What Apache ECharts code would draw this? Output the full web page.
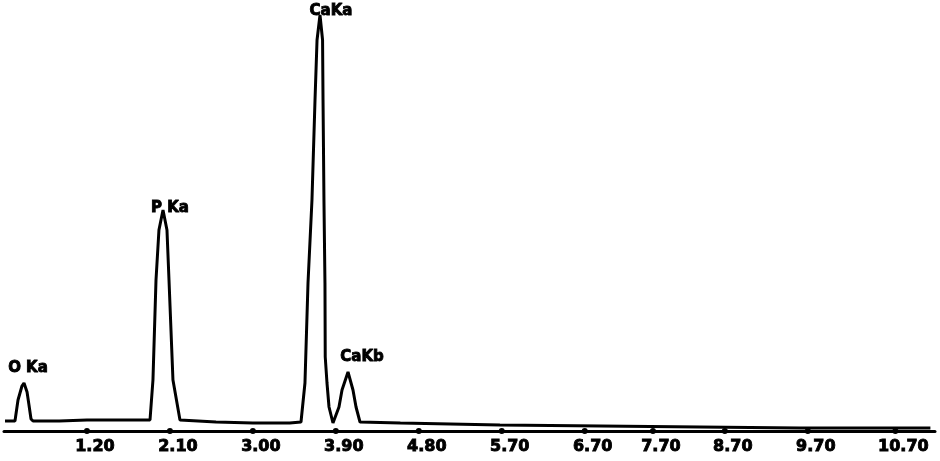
<!DOCTYPE html>
<html>
<head>
<meta charset="utf-8">
<script src="https://cdn.jsdelivr.net/npm/echarts@6/dist/echarts.min.js"></script>
<style>
  html, body { margin: 0; padding: 0; background: #ffffff; }
  #chart { width: 940px; height: 461px; }
</style>
</head>
<body>
<div id="chart"></div>
<script>
// EDS spectrum: energy (keV) against counts
const energy = [
  0.311, 0.419, 0.452, 0.495, 0.517, 0.55, 0.571, 0.593, 0.615,
  0.9, 1.2, 1.6, 1.884, 1.916, 1.949, 1.981, 2.025, 2.068, 2.09, 2.133, 2.209,
  2.6, 3.0, 3.4, 3.522, 3.565, 3.598, 3.641, 3.674, 3.696, 3.728, 3.756, 3.761,
  3.771, 3.782, 3.785, 3.804, 3.826, 3.869, 3.934, 3.967, 4.032, 4.086, 4.119,
  4.162, 4.6, 5.68, 6.77, 7.85, 8.94, 10.35
];
const counts = [
  50, 50, 155, 225, 240, 195, 130, 60, 50,
  50, 55, 55, 55, 255, 755, 1005, 1105, 1005, 755, 255, 55,
  45, 40, 40, 45, 240, 740, 1155, 1655, 1955, 2080, 1955, 1655,
  1155, 740, 370, 240, 120, 40, 120, 205, 295, 205, 120,
  45, 40, 30, 25, 20, 15, 15
];

// Peak identifications and their line energies (keV)
const peakNames = ['O Ka', 'P Ka', 'CaKa', 'CaKb'];
const peakEnergy = [0.517, 2.025, 3.728, 4.032];

// Axis tick positions (keV) and the labels printed under them
const tickValues = [1.2, 2.1, 3.0, 3.9, 4.8, 5.7, 6.6, 7.34, 8.12, 9.02, 9.97];
const tickLabels = ['1.20', '2.10', '3.00', '3.90', '4.80', '5.70', '6.70', '7.70', '8.70', '9.70', '10.70'];

const spectrum = energy.map((e, i) => [e, counts[i]]);

// label offsets for each peak name, relative to the peak top
const labelOffsets = {
  'O Ka': [4, -15],
  'P Ka': [7, -2],
  'CaKa': [11, -4],
  'CaKb': [14, -15]
};

const peakMarks = peakNames.map((name, i) => {
  const idx = energy.indexOf(peakEnergy[i]);
  return {
    value: [peakEnergy[i], counts[idx]],
    name: name,
    label: { offset: labelOffsets[name] }
  };
});

const heavyText = {
  color: '#000',
  fontFamily: 'DejaVu Sans',
  fontWeight: 'bold',
  textBorderColor: '#000',
  textBorderWidth: 0.9
};

const chart = echarts.init(document.getElementById('chart'), null, { renderer: 'canvas' });

chart.setOption({
  animation: false,
  backgroundColor: '#ffffff',
  grid: { left: 4, right: 5, top: 11, bottom: 30 },
  xAxis: {
    type: 'value',
    min: 0.3,
    max: 10.4,
    axisLine: { show: true, lineStyle: { color: '#000', width: 3 } },
    axisTick: { show: false },
    splitLine: { show: false },
    axisLabel: Object.assign({
      customValues: tickValues,
      margin: 8,
      padding: [0, 0, 0, 16],
      fontSize: 16,
      formatter: function (v) {
        let best = 0;
        for (let i = 1; i < tickValues.length; i++) {
          if (Math.abs(tickValues[i] - v) < Math.abs(tickValues[best] - v)) best = i;
        }
        return tickLabels[best];
      }
    }, heavyText)
  },
  yAxis: {
    type: 'value',
    min: 0,
    max: 2100,
    show: false,
    splitLine: { show: false }
  },
  series: [
    {
      type: 'line',
      data: spectrum,
      symbol: 'none',
      smooth: false,
      lineStyle: { color: '#000', width: 3 },
      z: 3
    },
    {
      // tick dots on the energy axis
      type: 'scatter',
      data: tickValues.map(v => [v, 0]),
      symbol: 'circle',
      symbolSize: 6,
      itemStyle: { color: '#000', opacity: 1 },
      clip: false,
      silent: true,
      z: 4
    },
    {
      // peak identification labels
      type: 'scatter',
      data: peakMarks,
      symbolSize: 0,
      silent: true,
      clip: false,
      itemStyle: { color: '#000', opacity: 1 },
      label: Object.assign({
        show: true,
        position: 'inside',
        formatter: '{b}',
        fontSize: 15
      }, heavyText),
      z: 5
    }
  ]
});
</script>
</body>
</html>
